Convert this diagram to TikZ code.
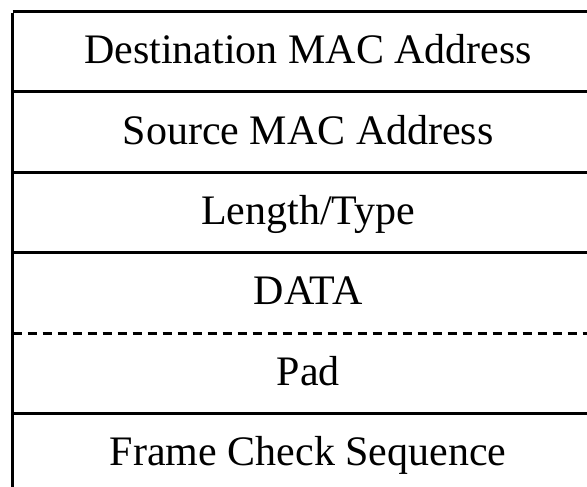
\documentclass[tikz,border=0pt]{standalone}
\usepackage{fontspec}
\setmainfont{Liberation Serif}
\usetikzlibrary{positioning}

\begin{document}
\begin{tikzpicture}[
    x=1pt, y=-1pt,
    every node/.style={font=\fontsize{42}{50}\selectfont},
    % Field styles
    field/.style={
      rectangle, draw=none, inner sep=0pt,
      minimum width=591pt, minimum height=80pt,
      text height=30pt, text depth=6pt
    },
    % Line styles
    rule/.style={line width=3pt},
    padrule/.style={line width=3pt, dash pattern=on 9pt off 6pt}
  ]
  \useasboundingbox (0,0) rectangle (587,487);

  % ============ Frame fields ============
  \node[field, anchor=north west] (dst) at (12.5,11.5) {Destination MAC Address};
  \node[field, below=0pt of dst] (src) {Source MAC Address};
  \node[field, below=0pt of src] (len) {Length/Type};
  \node[field, below=0pt of len] (data) {DATA};
  \node[field, below=0pt of data] (pad) {Pad};
  \node[field, below=0pt of pad] (fcs) {Frame Check Sequence};

  % right edge of the page (the frame runs off it)
  \coordinate (edge) at (587,0);
  \coordinate (floor) at (0,487);

  % ============ Separators ============
  \draw[rule] (dst.north west) -- (dst.north west -| edge);
  \draw[rule] (src.north west) -- (src.north west -| edge);
  \draw[rule] (len.north west) -- (len.north west -| edge);
  \draw[rule] (data.north west) -- (data.north west -| edge);
  \draw[padrule] (pad.north west) -- (pad.north west -| edge);
  \draw[rule] (fcs.north west) -- (fcs.north west -| edge);

  % left border
  \draw[rule] ([yshift=-1.5pt]dst.north west) -- (dst.north west |- floor);
\end{tikzpicture}
\end{document}
